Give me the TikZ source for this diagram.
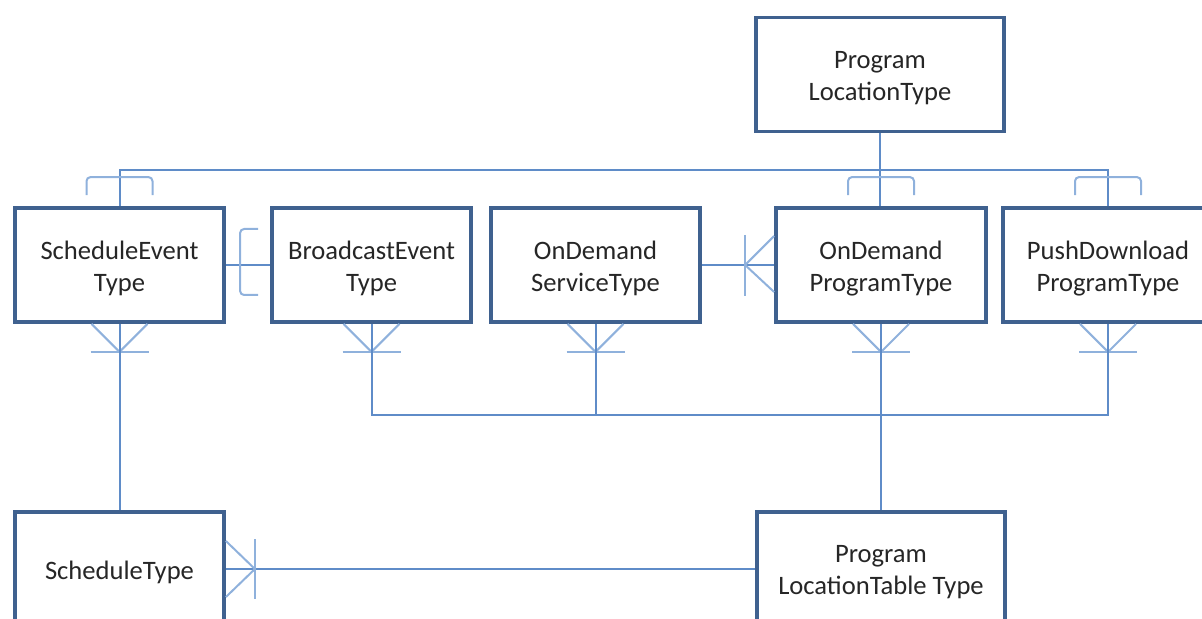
\documentclass[tikz,border=0pt]{standalone}
\usepackage{fontspec}
\setmainfont{Carlito}
\begin{document}
\begin{tikzpicture}[x=0.5pt,y=-0.5pt,
  box/.style={draw=boxblue,line width=1.9pt,fill=white,inner sep=0pt,minimum height=57pt},
  lbl/.style={align=center,font=\fontsize{13.3}{16}\selectfont,text=black!85,yshift=-1.8pt},
  conn/.style={draw=lineblue,line width=1pt},
  deco/.style={draw=lightblue,line width=1pt},
  brk/.style={draw=lightblue,line width=1pt,rounded corners=2pt}]
\definecolor{boxblue}{HTML}{3F618F}
\definecolor{lineblue}{HTML}{5F8CC8}
\definecolor{lightblue}{HTML}{8FB1DC}
\useasboundingbox (0,0) rectangle (1202,619);
\clip (0,0) rectangle (1202,619);
% nodes
\node[box,minimum width=124pt,label={[lbl]center:Program\\LocationType}] (PLT) at (880,74.5) {};
\node[box,minimum width=104.5pt,label={[lbl]center:ScheduleEvent\\Type}] (SE) at (119.5,265) {};
\node[box,minimum width=99.5pt,label={[lbl]center:BroadcastEvent\\Type}] (BE) at (371.5,265) {};
\node[box,minimum width=104.5pt,label={[lbl]center:OnDemand\\ServiceType}] (ODS) at (595.5,265) {};
\node[box,minimum width=105pt,label={[lbl]center:OnDemand\\ProgramType}] (ODP) at (881,265) {};
\node[box,minimum width=105pt,label={[lbl]center:PushDownload\\ProgramType}] (PD) at (1108,265) {};
\node[box,minimum width=104.5pt,label={[lbl]center:ScheduleType}] (ST) at (119.5,569) {};
\node[box,minimum width=124pt,label={[lbl]center:Program\\LocationTable Type}] (PLTT) at (881,569) {};
\coordinate (hy) at (0,170);
\coordinate (by) at (0,415);
% top tree
\draw[conn] (PLT.south) -- (PLT.south |- ODP.north);
\draw[conn] (SE.north) -- (SE.north |- hy) -- (PD.north |- hy) -- (PD.north);
\foreach \n in {SE,ODP,PD}{
  \draw[brk] ([shift={(-33,-11)}]\n.north) -- ([shift={(-33,-29)}]\n.north)
     -- ([shift={(33,-29)}]\n.north) -- ([shift={(33,-11)}]\n.north);
}
% SE - BE
\draw[conn] (SE.east) -- (BE.west);
\draw[brk] ([shift={(-12,-36)}]BE.west) -- ([shift={(-30,-36)}]BE.west)
   -- ([shift={(-30,30)}]BE.west) -- ([shift={(-12,30)}]BE.west);
% ODS - ODP
\draw[conn] (ODS.east) -- (ODP.west);
\draw[deco] ([shift={(-29,-30)}]ODP.west) -- ([shift={(-29,31)}]ODP.west);
\draw[deco] ([shift={(0,-29)}]ODP.west) -- ([shift={(-29,0)}]ODP.west) -- ([shift={(0,27)}]ODP.west);
% crow's feet below row 2
\foreach \n in {SE,BE,ODS,ODP,PD}{
  \draw[deco] ([shift={(-28,0)}]\n.south) -- ([shift={(0,28)}]\n.south) -- ([shift={(28,0)}]\n.south);
  \draw[deco] ([shift={(-29,28)}]\n.south) -- ([shift={(29,28)}]\n.south);
}
% SE - ST
\draw[conn] (SE.south) -- (ST.north);
% lower tree
\draw[conn] (BE.south) -- (BE.south |- by) -- (PD.south |- by) -- (PD.south);
\draw[conn] (ODS.south) -- (ODS.south |- by);
\draw[conn] (ODP.south) -- (PLTT.north);
% ST - PLTT
\draw[conn] (ST.east) -- (PLTT.west);
\draw[deco] ([shift={(29,-30)}]ST.east) -- ([shift={(29,30)}]ST.east);
\draw[deco] ([shift={(0,-28)}]ST.east) -- ([shift={(29,0)}]ST.east) -- ([shift={(0,28)}]ST.east);
\end{tikzpicture}
\end{document}
